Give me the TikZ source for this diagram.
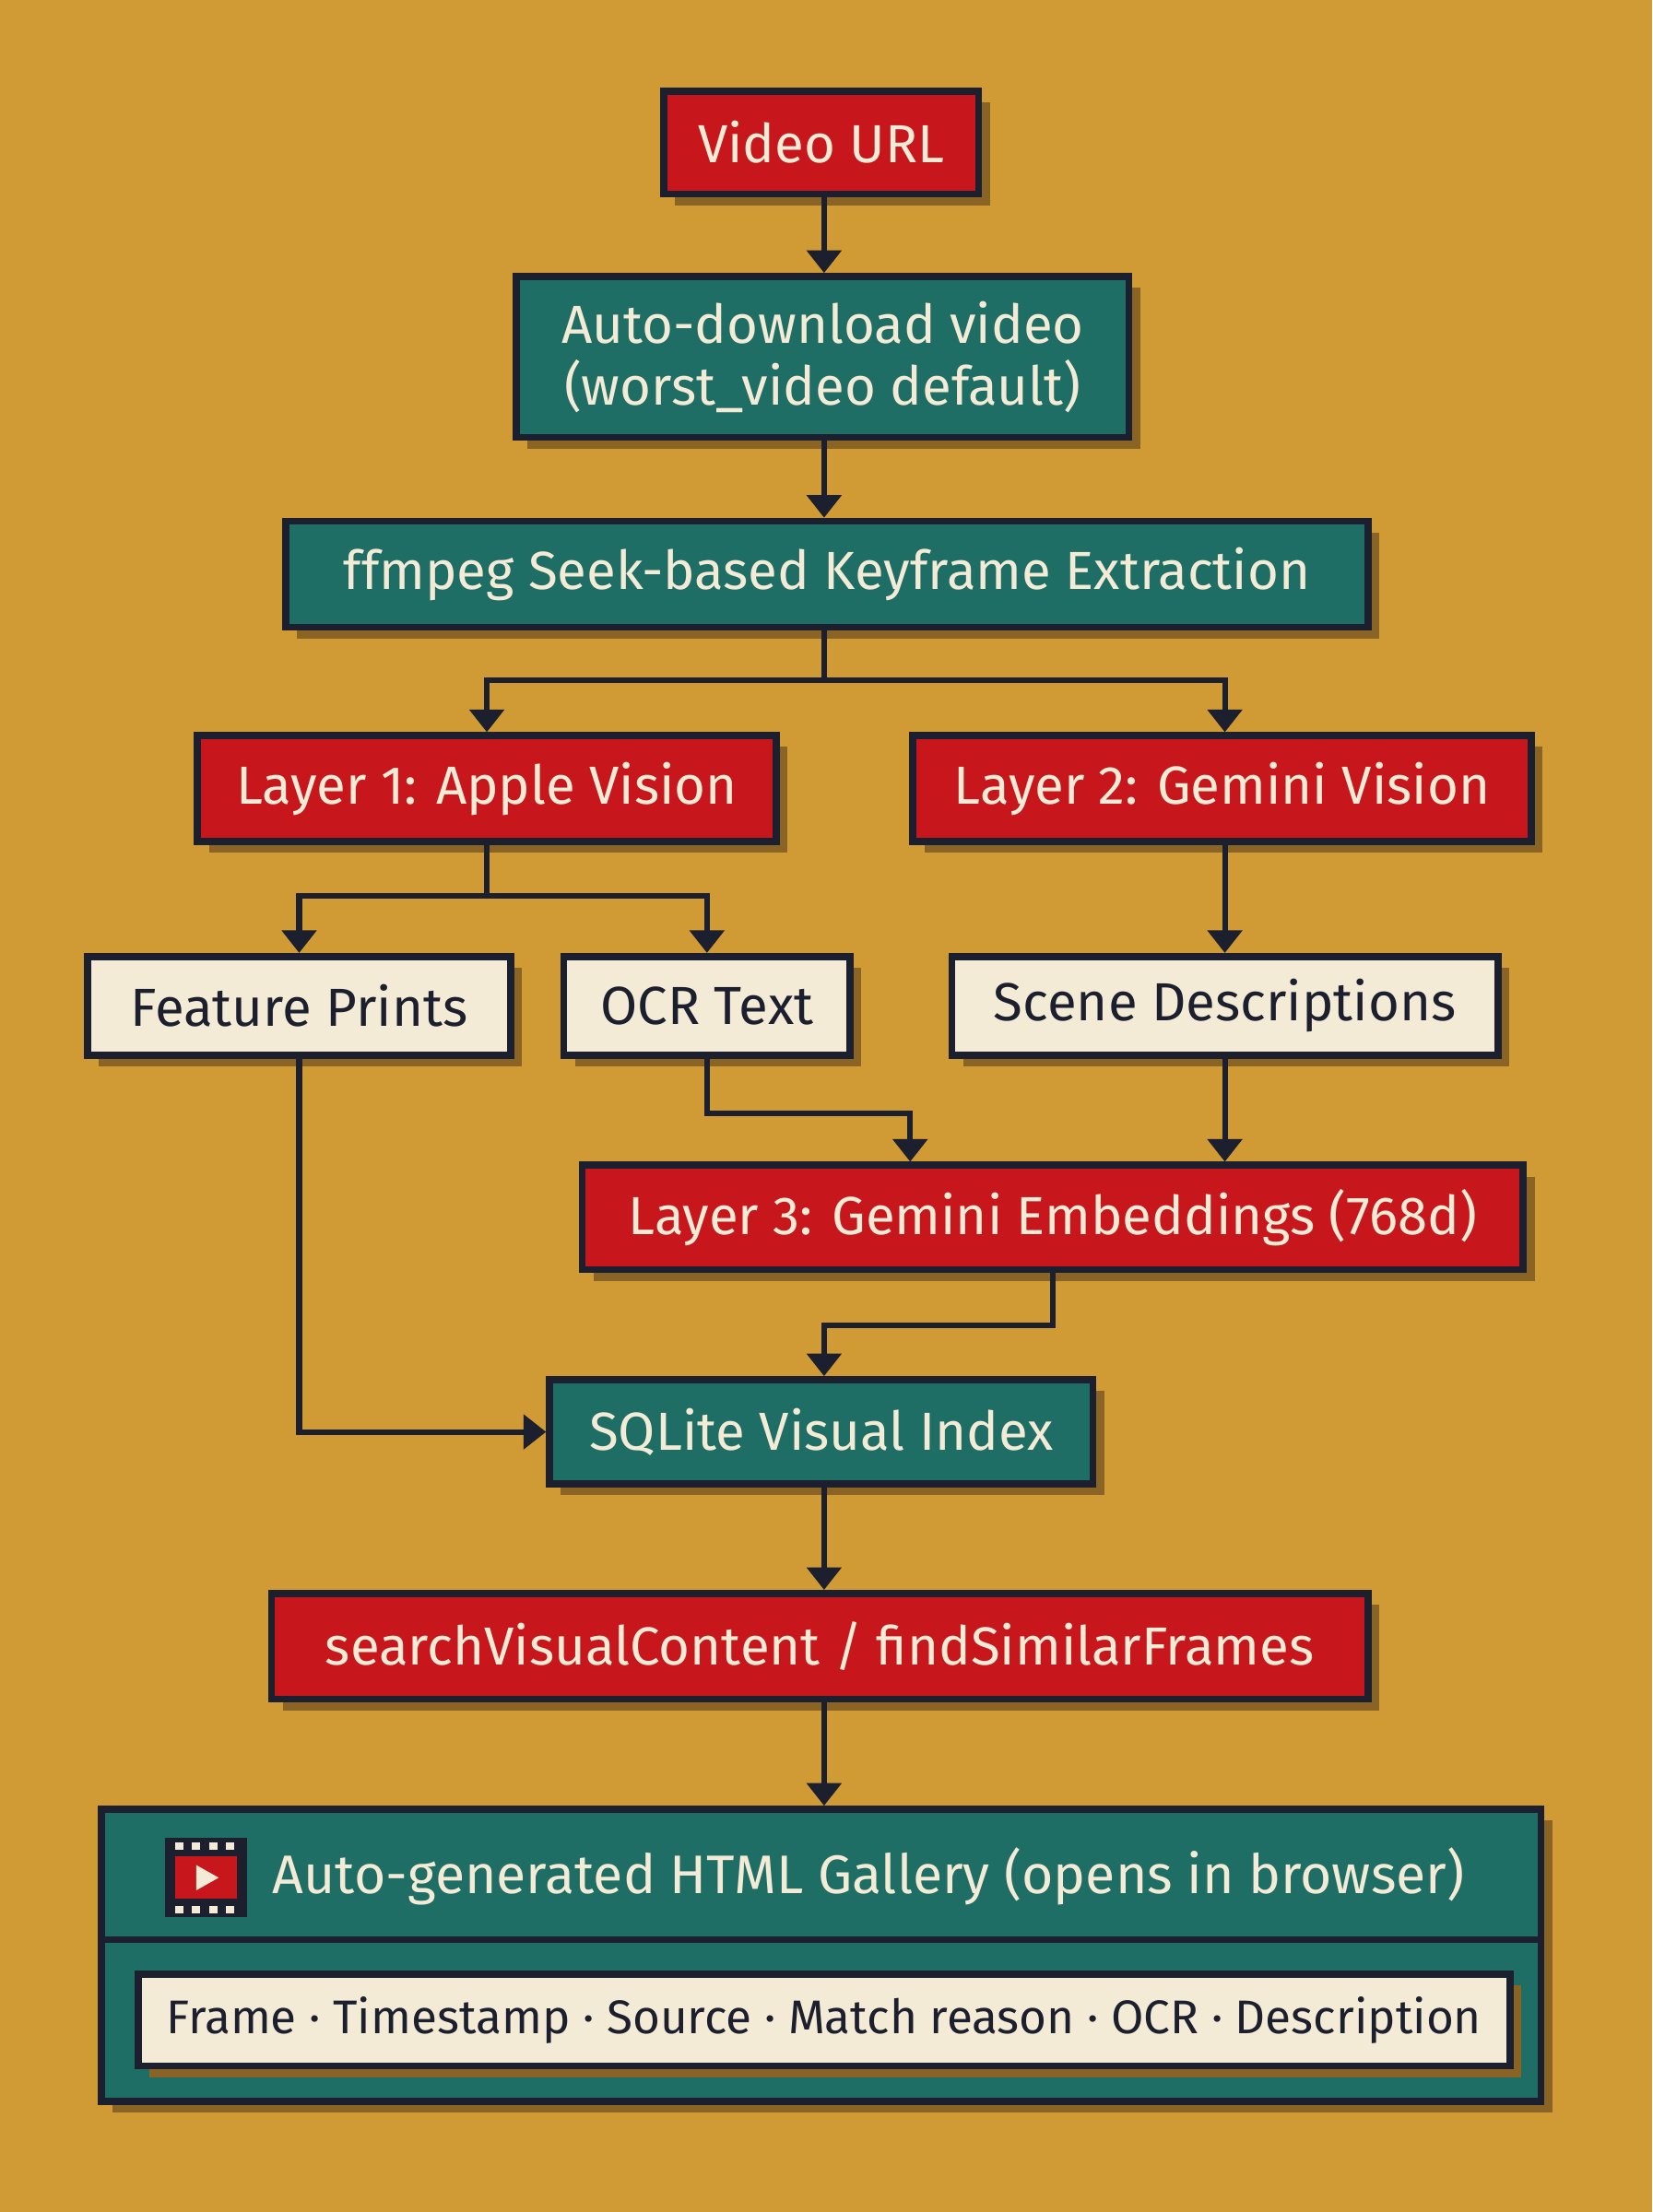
\documentclass[tikz,border=0pt]{standalone}
\usepackage{fontspec}
\setmainfont{Fira Sans}
\usetikzlibrary{arrows.meta,shadows}
\definecolor{bg}{HTML}{D09A35}
\definecolor{rd}{HTML}{C8171C}
\definecolor{tl}{HTML}{1E6E66}
\definecolor{cr}{HTML}{F3EBD6}
\definecolor{dk}{HTML}{1C1F2E}
\definecolor{sh}{HTML}{8A6424}
\tikzset{
 x=1pt,y=-1pt,
 bx/.style={draw=dk,line width=5pt,rectangle,inner sep=0pt,font=\fontsize{38}{44}\selectfont,align=center,
   drop shadow={shadow xshift=8pt,shadow yshift=-8pt,fill=sh,opacity=1}},
 redbox/.style={bx,fill=rd,text=cr},
 tealbox/.style={bx,fill=tl,text=cr},
 creambox/.style={bx,fill=cr,text=dk},
 conn/.style={draw=dk,line width=4pt,-{Triangle[length=16pt,width=24pt]}},
}
\begin{document}
\begin{tikzpicture}
\fill[bg] (0,0) rectangle (1171,1568);
\useasboundingbox (0,0) rectangle (1171,1568);
\node[redbox,minimum width=223,minimum height=73] (video) at (582,101) {Video URL};
\node[tealbox,minimum width=434,minimum height=114] (auto) at (583,253) {Auto-download video\\(worst\_video default)};
\node[tealbox,minimum width=767,minimum height=75] (ff) at (586,407) {ffmpeg Seek-based Keyframe Extraction};
\node[redbox,minimum width=410,minimum height=75] (l1) at (345,559) {Layer 1: Apple Vision};
\node[redbox,minimum width=438,minimum height=75] (l2) at (866,559) {Layer 2: Gemini Vision};
\node[creambox,minimum width=300,minimum height=70] (fp) at (212,713) {Feature Prints};
\node[creambox,minimum width=203,minimum height=70] (ocr) at (501,713) {OCR Text};
\node[creambox,minimum width=387,minimum height=70] (scene) at (868,713) {Scene Descriptions};
\node[redbox,minimum width=667,minimum height=74] (l3) at (746,863) {Layer 3: Gemini Embeddings (768d)};
\node[tealbox,minimum width=385,minimum height=74] (sql) at (582,1015) {SQLite Visual Index};
\node[redbox,minimum width=777,minimum height=75] (search) at (581,1167) {searchVisualContent / findSimilarFrames};
\node[tealbox,minimum width=1020,minimum height=207] (gal) at (582,1386) {};
\draw[dk,line width=5pt] (gal.west |- 0,1375) -- (gal.east |- 0,1375);
\node[creambox,drop shadow={shadow xshift=0pt,shadow yshift=0pt,opacity=0},minimum width=972,minimum height=65,font=\fontsize{33.5}{38}\selectfont] (row) at (584,1432) {Frame · Timestamp · Source · Match reason · OCR · Description};
\node[text=cr,font=\fontsize{38.5}{44}\selectfont,anchor=west,inner sep=0] (galt) at (193,1330) {Auto-generated HTML Gallery (opens in browser)};
% icon
\node[fill=dk,minimum width=58,minimum height=56,inner sep=0] (icon) at (146,1331) {};
\fill[rd] (124,1316) rectangle (168,1346);
\foreach \i in {0,1,2,3} {\fill[cr] (124+\i*12,1306) rectangle (130+\i*12,1311); \fill[cr] (124+\i*12,1351) rectangle (130+\i*12,1356);}
\fill[cr] (139,1322) -- (155,1331) -- (139,1340) -- cycle;
% connectors
\coordinate (c1) at (645,0);
\coordinate (c2) at (584,0);
\coordinate (c3) at (868,0);
\draw[conn] (video.south -| c2) -- (auto.north -| c2);
\draw[conn] (auto.south -| c2) -- (ff.north -| c2);
\draw[conn] (ff.south -| c2) -- ++(0,35) -| (l1.north);
\draw[conn] (ff.south -| c2) -- ++(0,35) -| (l2.north -| c3);
\draw[conn] (l1.south) -- ++(0,36) -| (fp.north);
\draw[conn] (l1.south) -- ++(0,36) -| (ocr.north);
\draw[conn] (l2.south -| c3) -- (scene.north -| c3);
\draw[conn] (ocr.south) -- ++(0,39) -| (l3.north -| c1);
\draw[conn] (scene.south -| c3) -- (l3.north -| c3);
\draw[conn] (l3.south) -- ++(0,37) -| (sql.north -| c2);
\draw[conn] (fp.south) |- (sql.west);
\draw[conn] (sql.south -| c2) -- (search.north -| c2);
\draw[conn] (search.south -| c2) -- (gal.north -| c2);
\end{tikzpicture}
\end{document}
